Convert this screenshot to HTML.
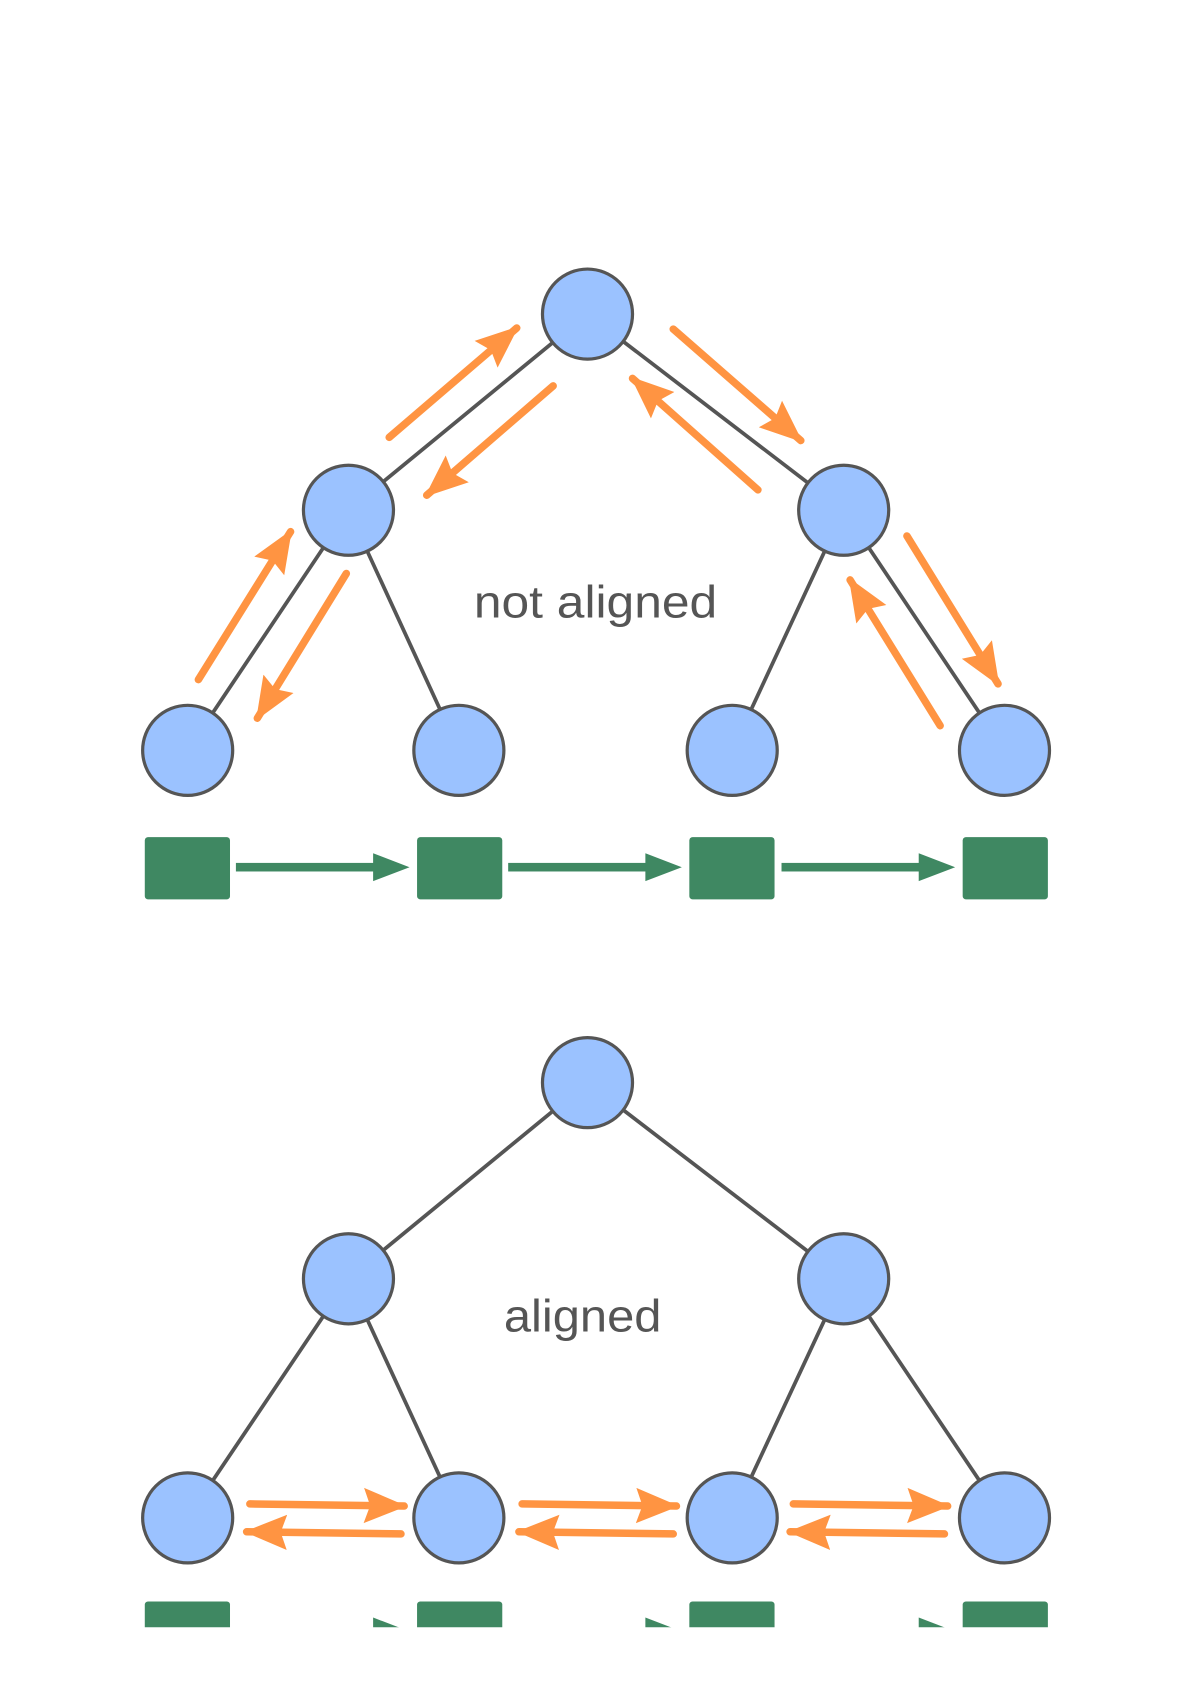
<!DOCTYPE html>
<html><head><meta charset="utf-8"><style>html,body{margin:0;padding:0;background:#fff}svg{display:block}</style></head>
<body>
<svg width="1190" height="1684" viewBox="0 0 1110 1571" xmlns="http://www.w3.org/2000/svg">
<defs>
<marker id="oh" markerUnits="userSpaceOnUse" markerWidth="40" markerHeight="40" viewBox="0 0 34 30" refX="32" refY="15" orient="auto">
<path d="M0,1 L34,15 L0,29 L5,15 Z" fill="#FF9442"/>
</marker>
</defs>
<g stroke="#555" stroke-width="3.5" fill="none">
<line x1="548" y1="293" x2="325" y2="476"/>
<line x1="548" y1="293" x2="787" y2="476"/>
<line x1="325" y1="476" x2="175" y2="700"/>
<line x1="325" y1="476" x2="428" y2="700"/>
<line x1="787" y1="476" x2="683" y2="700"/>
<line x1="787" y1="476" x2="937" y2="700"/>
<line x1="548" y1="1010" x2="325" y2="1193"/>
<line x1="548" y1="1010" x2="787" y2="1193"/>
<line x1="325" y1="1193" x2="175" y2="1416"/>
<line x1="325" y1="1193" x2="428" y2="1416"/>
<line x1="787" y1="1193" x2="683" y2="1416"/>
<line x1="787" y1="1193" x2="937" y2="1416"/>
</g>
<g fill="#9BC2FF" stroke="#555" stroke-width="3">
<circle cx="548" cy="293" r="42"/>
<circle cx="325" cy="476" r="42"/><circle cx="787" cy="476" r="42"/>
<circle cx="175" cy="700" r="42"/><circle cx="428" cy="700" r="42"/><circle cx="683" cy="700" r="42"/><circle cx="937" cy="700" r="42"/>
<circle cx="548" cy="1010" r="42"/>
<circle cx="325" cy="1193" r="42"/><circle cx="787" cy="1193" r="42"/>
<circle cx="175" cy="1416" r="42"/><circle cx="428" cy="1416" r="42"/><circle cx="683" cy="1416" r="42"/><circle cx="937" cy="1416" r="42"/>
</g>
<g stroke="#FF9442" stroke-width="7" stroke-linecap="round" fill="none" marker-end="url(#oh)">
<line x1="363" y1="408" x2="482" y2="306"/>
<line x1="516" y1="360" x2="398" y2="462"/>
<line x1="628" y1="307" x2="747" y2="411"/>
<line x1="707" y1="457" x2="590" y2="353"/>
<line x1="185" y1="634" x2="271" y2="496"/>
<line x1="323" y1="535" x2="240" y2="670"/>
<line x1="846" y1="500" x2="931" y2="638"/>
<line x1="877" y1="677" x2="793" y2="541"/>
<line x1="233" y1="1403" x2="377" y2="1405"/>
<line x1="374" y1="1431" x2="230" y2="1429"/>
<line x1="487" y1="1403" x2="631" y2="1405"/>
<line x1="628" y1="1431" x2="484" y2="1429"/>
<line x1="740" y1="1403" x2="884" y2="1405"/>
<line x1="881" y1="1431" x2="737" y2="1429"/>
</g>
<g fill="#3F8862">
<rect x="135" y="781" width="79.5" height="58" rx="3"/>
<rect x="389" y="781" width="79.5" height="58" rx="3"/>
<rect x="643" y="781" width="79.5" height="58" rx="3"/>
<rect x="898" y="781" width="79.5" height="58" rx="3"/>
<rect x="220" y="805" width="130" height="8"/><path d="M348,796 L382,809 L348,822 Z"/>
<rect x="474" y="805" width="130" height="8"/><path d="M602,796 L636,809 L602,822 Z"/>
<rect x="729" y="805" width="130" height="8"/><path d="M857,796 L891,809 L857,822 Z"/>
</g>
<clipPath id="cl"><rect x="0" y="0" width="1110" height="1518"/></clipPath>
<g fill="#3F8862" clip-path="url(#cl)">
<rect x="135" y="1494" width="79.5" height="58" rx="3"/>
<rect x="389" y="1494" width="79.5" height="58" rx="3"/>
<rect x="643" y="1494" width="79.5" height="58" rx="3"/>
<rect x="898" y="1494" width="79.5" height="58" rx="3"/>
<path d="M348,1509 L382,1522 L348,1535 Z"/>
<path d="M602,1509 L636,1522 L602,1535 Z"/>
<path d="M857,1509 L891,1522 L857,1535 Z"/>
</g>
<g fill="#555" font-family="'Liberation Sans', sans-serif" font-size="42">
<text x="442" y="576" textLength="227" lengthAdjust="spacingAndGlyphs">not aligned</text>
<text x="470" y="1242" textLength="147" lengthAdjust="spacingAndGlyphs">aligned</text>
</g>
</svg>
</body></html>
